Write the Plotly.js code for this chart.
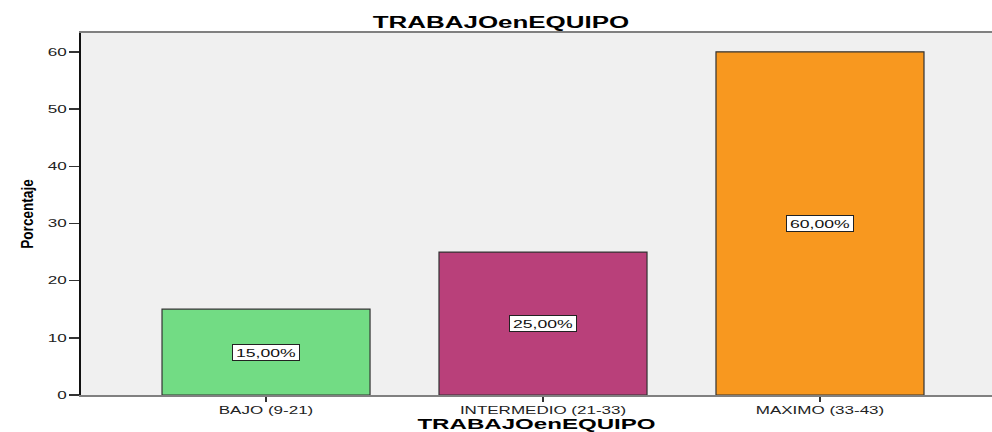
<!DOCTYPE html>
<html>
<head>
<meta charset="utf-8">
<script src="https://cdn.plot.ly/plotly-3.0.1.min.js"></script>
<style>
html,body{margin:0;padding:0;background:#fff;}
#chart{width:992px;height:432px;}
</style>
</head>
<body>
<div id="chart"></div>
<script>
const categories = ["BAJO (9-21)", "INTERMEDIO (21-33)", "MAXIMO (33-43)"];
const percentages = [15, 25, 60];
const barLabels = ["15,00%", "25,00%", "60,00%"];
const barColors = ["#72dc84", "#b9407a", "#f8981f"];
const yTicks = [0, 10, 20, 30, 40, 50, 60];

const FONT = "Liberation Sans, Arial, sans-serif";

const trace = {
  type: "bar",
  x: categories,
  y: percentages,
  width: 0.751,
  marker: {color: barColors, line: {color: "#333333", width: 1.2}},
  hoverinfo: "x+y"
};

const annotations = categories.map((c, i) => ({
  x: c,
  y: percentages[i] / 2,
  xref: "x",
  yref: "y",
  text: barLabels[i],
  showarrow: false,
  font: {family: FONT, size: 11, color: "#111"},
  bgcolor: "#ffffff",
  bordercolor: "#222222",
  borderwidth: 1,
  borderpad: 1,
  width: 64,
  height: 13
}));

const layout = {
  width: 992,
  height: 432,
  margin: {l: 81, r: 0, t: 33, b: 37},
  paper_bgcolor: "#ffffff",
  plot_bgcolor: "#f0f0f0",
  showlegend: false,
  title: {
    text: "TRABAJOenEQUIPO",
    x: 0.505,
    xref: "container",
    y: 0.947,
    yref: "container",
    yanchor: "middle",
    font: {family: FONT, size: 16, weight: "bold", color: "#000"}
  },
  xaxis: {
    type: "category",
    range: [-0.668, 2.621],
    showgrid: false,
    zeroline: false,
    showline: true,
    linecolor: "#808080",
    linewidth: 2,
    mirror: true,
    ticks: "outside",
    ticklen: 5,
    tickwidth: 2,
    tickcolor: "#333333",
    tickfont: {family: FONT, size: 10, color: "#222"},
    title: {
      text: "TRABAJOenEQUIPO",
      standoff: 5,
      font: {family: FONT, size: 14, weight: "bold", color: "#000"}
    }
  },
  yaxis: {
    range: [0, 63.3],
    tickvals: yTicks,
    ticktext: yTicks.map(String),
    showgrid: false,
    zeroline: false,
    showline: true,
    linecolor: "#111111",
    linewidth: 2,
    ticks: "outside",
    ticklen: 10,
    tickwidth: 1.5,
    tickcolor: "#333333",
    tickfont: {family: FONT, size: 11, color: "#222"},
    title: {
      text: "Porcentaje",
      standoff: 17,
      font: {family: FONT, size: 17, weight: "bold", color: "#000"}
    }
  },
  annotations: annotations
};

function stretch(sel, f) {
  document.querySelectorAll(sel).forEach(t => {
    const w = t.getComputedTextLength();
    if (w > 0) {
      t.setAttribute("textLength", (w * f).toFixed(1));
      t.setAttribute("lengthAdjust", "spacingAndGlyphs");
    }
  });
}

Plotly.newPlot("chart", [trace], layout, {displayModeBar: false, staticPlot: true}).then(() => {
  stretch(".gtitle", 1.62);
  stretch(".xtitle", 1.72);
  stretch(".ytitle", 0.8);
  stretch(".xtick text", 1.7);
  stretch(".ytick text", 1.55);
  stretch(".annotation-text", 1.6);
});
</script>
</body>
</html>
